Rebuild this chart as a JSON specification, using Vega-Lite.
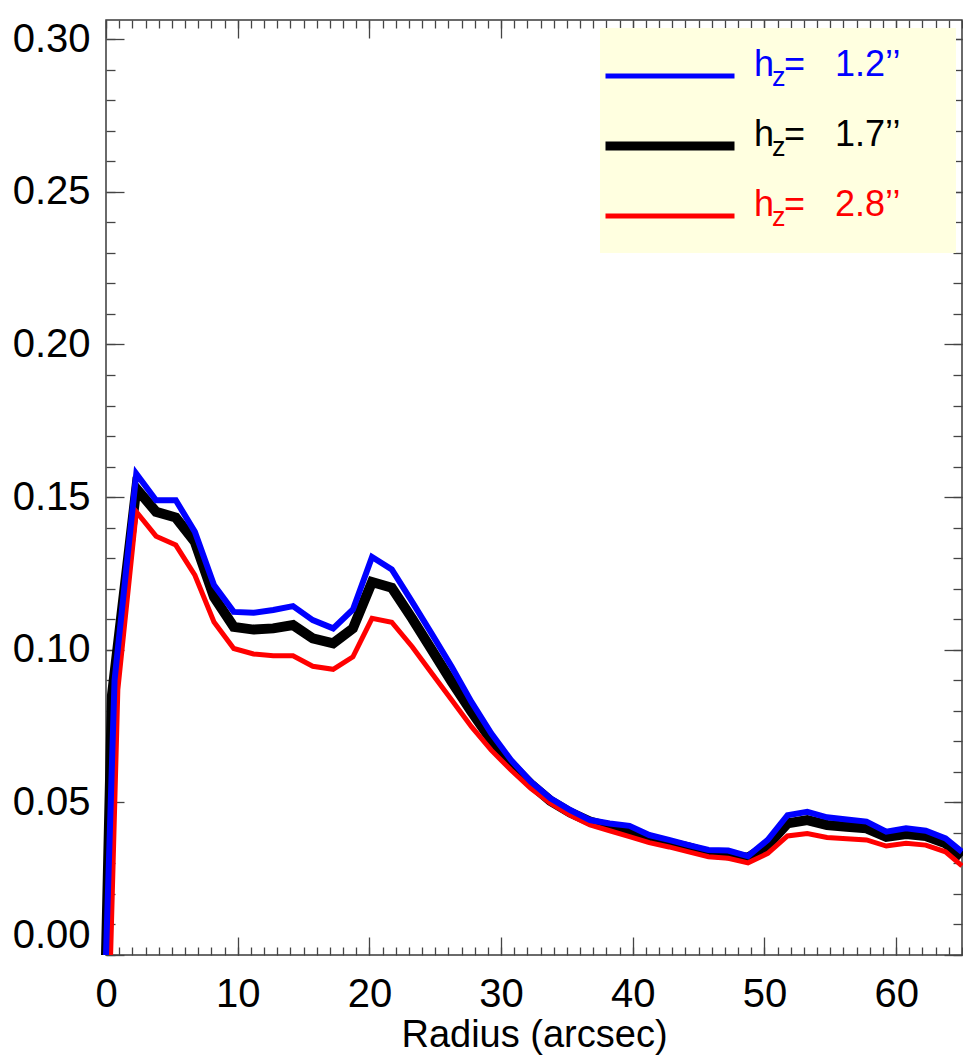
{
  "$schema": "https://vega.github.io/schema/vega-lite/v6.json",
  "width": 856,
  "height": 935,
  "autosize": {"type": "none"},
  "padding": {"left": 106, "top": 20, "right": 1, "bottom": 103},
  "background": "white",
  "config": {
    "view": {"stroke": "#3a3a3a", "strokeWidth": 1.5},
    "font": "Liberation Sans",
    "axis": {"grid": false, "domain": false, "tickColor": "#444444", "tickWidth": 1.3, "labelFlush": false}
  },
  "datasets": {
    "curves": [
      {"hz": "1.2", "r": 0, "f": 0}, {"hz": "1.2", "r": 0.65, "f": 0.09}, {"hz": "1.2", "r": 2.3, "f": 0.1577}, {"hz": "1.2", "r": 3.8, "f": 0.149}, {"hz": "1.2", "r": 5.3, "f": 0.149}, {"hz": "1.2", "r": 6.75, "f": 0.1386}, {"hz": "1.2", "r": 8.2, "f": 0.1212}, {"hz": "1.2", "r": 9.7, "f": 0.1124}, {"hz": "1.2", "r": 11.2, "f": 0.1121}, {"hz": "1.2", "r": 12.7, "f": 0.113}, {"hz": "1.2", "r": 14.2, "f": 0.1143}, {"hz": "1.2", "r": 15.7, "f": 0.1097}, {"hz": "1.2", "r": 17.25, "f": 0.107}, {"hz": "1.2", "r": 18.75, "f": 0.1132}, {"hz": "1.2", "r": 20.2, "f": 0.1304}, {"hz": "1.2", "r": 21.7, "f": 0.1263}, {"hz": "1.2", "r": 23.25, "f": 0.1157}, {"hz": "1.2", "r": 24.75, "f": 0.1051}, {"hz": "1.2", "r": 26.25, "f": 0.0944}, {"hz": "1.2", "r": 27.75, "f": 0.0829}, {"hz": "1.2", "r": 29.25, "f": 0.0726}, {"hz": "1.2", "r": 30.75, "f": 0.0639}, {"hz": "1.2", "r": 32.25, "f": 0.0568}, {"hz": "1.2", "r": 33.75, "f": 0.0513}, {"hz": "1.2", "r": 35.25, "f": 0.0475}, {"hz": "1.2", "r": 36.75, "f": 0.0442}, {"hz": "1.2", "r": 38.25, "f": 0.0431}, {"hz": "1.2", "r": 39.75, "f": 0.0423}, {"hz": "1.2", "r": 41.25, "f": 0.0393}, {"hz": "1.2", "r": 42.75, "f": 0.0377}, {"hz": "1.2", "r": 44.25, "f": 0.036}, {"hz": "1.2", "r": 45.75, "f": 0.0344}, {"hz": "1.2", "r": 47.25, "f": 0.0342}, {"hz": "1.2", "r": 48.75, "f": 0.0324}, {"hz": "1.2", "r": 50.25, "f": 0.0377}, {"hz": "1.2", "r": 51.75, "f": 0.0458}, {"hz": "1.2", "r": 53.25, "f": 0.0469}, {"hz": "1.2", "r": 54.75, "f": 0.0451}, {"hz": "1.2", "r": 56.25, "f": 0.0444}, {"hz": "1.2", "r": 57.75, "f": 0.0437}, {"hz": "1.2", "r": 59.25, "f": 0.0404}, {"hz": "1.2", "r": 60.75, "f": 0.0415}, {"hz": "1.2", "r": 62.25, "f": 0.0407}, {"hz": "1.2", "r": 63.75, "f": 0.0382}, {"hz": "1.2", "r": 65, "f": 0.0338},
      {"hz": "1.7", "r": 0, "f": 0}, {"hz": "1.7", "r": 0.45, "f": 0.085}, {"hz": "1.7", "r": 2.3, "f": 0.1528}, {"hz": "1.7", "r": 3.8, "f": 0.1452}, {"hz": "1.7", "r": 5.3, "f": 0.1433}, {"hz": "1.7", "r": 6.75, "f": 0.1353}, {"hz": "1.7", "r": 8.2, "f": 0.1173}, {"hz": "1.7", "r": 9.7, "f": 0.1075}, {"hz": "1.7", "r": 11.2, "f": 0.1066}, {"hz": "1.7", "r": 12.7, "f": 0.107}, {"hz": "1.7", "r": 14.2, "f": 0.1081}, {"hz": "1.7", "r": 15.7, "f": 0.1037}, {"hz": "1.7", "r": 17.25, "f": 0.1021}, {"hz": "1.7", "r": 18.75, "f": 0.107}, {"hz": "1.7", "r": 20.2, "f": 0.1222}, {"hz": "1.7", "r": 21.7, "f": 0.1203}, {"hz": "1.7", "r": 23.25, "f": 0.1102}, {"hz": "1.7", "r": 24.75, "f": 0.0999}, {"hz": "1.7", "r": 26.25, "f": 0.0895}, {"hz": "1.7", "r": 27.75, "f": 0.0797}, {"hz": "1.7", "r": 29.25, "f": 0.0704}, {"hz": "1.7", "r": 30.75, "f": 0.0625}, {"hz": "1.7", "r": 32.25, "f": 0.056}, {"hz": "1.7", "r": 33.75, "f": 0.0505}, {"hz": "1.7", "r": 35.25, "f": 0.0467}, {"hz": "1.7", "r": 36.75, "f": 0.0437}, {"hz": "1.7", "r": 38.25, "f": 0.042}, {"hz": "1.7", "r": 39.75, "f": 0.0408}, {"hz": "1.7", "r": 41.25, "f": 0.0383}, {"hz": "1.7", "r": 42.75, "f": 0.0366}, {"hz": "1.7", "r": 44.25, "f": 0.0353}, {"hz": "1.7", "r": 45.75, "f": 0.0333}, {"hz": "1.7", "r": 47.25, "f": 0.0327}, {"hz": "1.7", "r": 48.75, "f": 0.0319}, {"hz": "1.7", "r": 50.25, "f": 0.036}, {"hz": "1.7", "r": 51.75, "f": 0.0431}, {"hz": "1.7", "r": 53.25, "f": 0.0442}, {"hz": "1.7", "r": 54.75, "f": 0.0426}, {"hz": "1.7", "r": 56.25, "f": 0.042}, {"hz": "1.7", "r": 57.75, "f": 0.0415}, {"hz": "1.7", "r": 59.25, "f": 0.0387}, {"hz": "1.7", "r": 60.75, "f": 0.0396}, {"hz": "1.7", "r": 62.25, "f": 0.039}, {"hz": "1.7", "r": 63.75, "f": 0.0366}, {"hz": "1.7", "r": 65, "f": 0.0322},
      {"hz": "2.8", "r": 0.35, "f": 0}, {"hz": "2.8", "r": 0.9, "f": 0.087}, {"hz": "2.8", "r": 2.3, "f": 0.1452}, {"hz": "2.8", "r": 3.8, "f": 0.1372}, {"hz": "2.8", "r": 5.3, "f": 0.1343}, {"hz": "2.8", "r": 6.75, "f": 0.1244}, {"hz": "2.8", "r": 8.2, "f": 0.1091}, {"hz": "2.8", "r": 9.7, "f": 0.1004}, {"hz": "2.8", "r": 11.2, "f": 0.0986}, {"hz": "2.8", "r": 12.7, "f": 0.098}, {"hz": "2.8", "r": 14.2, "f": 0.098}, {"hz": "2.8", "r": 15.7, "f": 0.0946}, {"hz": "2.8", "r": 17.25, "f": 0.0936}, {"hz": "2.8", "r": 18.75, "f": 0.0977}, {"hz": "2.8", "r": 20.2, "f": 0.1103}, {"hz": "2.8", "r": 21.7, "f": 0.109}, {"hz": "2.8", "r": 23.25, "f": 0.101}, {"hz": "2.8", "r": 24.75, "f": 0.0922}, {"hz": "2.8", "r": 26.25, "f": 0.0835}, {"hz": "2.8", "r": 27.75, "f": 0.0748}, {"hz": "2.8", "r": 29.25, "f": 0.0671}, {"hz": "2.8", "r": 30.75, "f": 0.0606}, {"hz": "2.8", "r": 32.25, "f": 0.0546}, {"hz": "2.8", "r": 33.75, "f": 0.0497}, {"hz": "2.8", "r": 35.25, "f": 0.0458}, {"hz": "2.8", "r": 36.75, "f": 0.0426}, {"hz": "2.8", "r": 38.25, "f": 0.0407}, {"hz": "2.8", "r": 39.75, "f": 0.0388}, {"hz": "2.8", "r": 41.25, "f": 0.0368}, {"hz": "2.8", "r": 42.75, "f": 0.0354}, {"hz": "2.8", "r": 44.25, "f": 0.0338}, {"hz": "2.8", "r": 45.75, "f": 0.0322}, {"hz": "2.8", "r": 47.25, "f": 0.0317}, {"hz": "2.8", "r": 48.75, "f": 0.0302}, {"hz": "2.8", "r": 50.25, "f": 0.0333}, {"hz": "2.8", "r": 51.75, "f": 0.039}, {"hz": "2.8", "r": 53.25, "f": 0.0398}, {"hz": "2.8", "r": 54.75, "f": 0.0385}, {"hz": "2.8", "r": 56.25, "f": 0.0381}, {"hz": "2.8", "r": 57.75, "f": 0.0377}, {"hz": "2.8", "r": 59.25, "f": 0.0357}, {"hz": "2.8", "r": 60.75, "f": 0.0366}, {"hz": "2.8", "r": 62.25, "f": 0.036}, {"hz": "2.8", "r": 63.75, "f": 0.0338}, {"hz": "2.8", "r": 65, "f": 0.0292}
    ]
  },
  "data": {"name": "curves"},
  "layer": [
    {
      "mark": {"type": "point", "opacity": 0, "size": 0},
      "encoding": {
        "x": {"field": "r", "type": "quantitative", "scale": {"domain": [0, 65], "nice": false, "zero": false},
          "axis": {"orient": "bottom", "values": [0,1,2,3,4,5,6,7,8,9,10,11,12,13,14,15,16,17,18,19,20,21,22,23,24,25,26,27,28,29,30,31,32,33,34,35,36,37,38,39,40,41,42,43,44,45,46,47,48,49,50,51,52,53,54,55,56,57,58,59,60,61,62,63,64,65], "tickSize": -8, "labels": false, "title": null}},
        "y": {"field": "f", "type": "quantitative", "scale": {"domain": [0, 0.3063], "nice": false, "zero": false},
          "axis": {"orient": "left", "values": [0,0.01,0.02,0.03,0.04,0.05,0.06,0.07,0.08,0.09,0.1,0.11,0.12,0.13,0.14,0.15,0.16,0.17,0.18,0.19,0.2,0.21,0.22,0.23,0.24,0.25,0.26,0.27,0.28,0.29,0.3], "tickSize": -9, "labels": false, "title": null}}
      }
    },
    {
      "mark": {"type": "point", "opacity": 0, "size": 0},
      "encoding": {
        "x": {"field": "r", "type": "quantitative", "scale": {"domain": [0, 65], "nice": false, "zero": false},
          "axis": {"orient": "bottom", "values": [0,10,20,30,40,50,60], "tickSize": -18, "labels": false, "title": null}},
        "y": {"field": "f", "type": "quantitative", "scale": {"domain": [0, 0.3063], "nice": false, "zero": false},
          "axis": {"orient": "left", "values": [0,0.05,0.1,0.15,0.2,0.25,0.3], "tickSize": -18, "labels": false, "title": null}}
      }
    },
    {
      "mark": {"type": "point", "opacity": 0, "size": 0},
      "encoding": {
        "x": {"field": "r", "type": "quantitative", "scale": {"domain": [0, 65], "nice": false, "zero": false},
          "axis": {"orient": "top", "values": [0,1,2,3,4,5,6,7,8,9,10,11,12,13,14,15,16,17,18,19,20,21,22,23,24,25,26,27,28,29,30,31,32,33,34,35,36,37,38,39,40,41,42,43,44,45,46,47,48,49,50,51,52,53,54,55,56,57,58,59,60,61,62,63,64,65], "tickSize": -8, "labels": false, "title": null}},
        "y": {"field": "f", "type": "quantitative", "scale": {"domain": [0, 0.3063], "nice": false, "zero": false},
          "axis": {"orient": "right", "values": [0,0.01,0.02,0.03,0.04,0.05,0.06,0.07,0.08,0.09,0.1,0.11,0.12,0.13,0.14,0.15,0.16,0.17,0.18,0.19,0.2,0.21,0.22,0.23,0.24,0.25,0.26,0.27,0.28,0.29,0.3], "tickSize": -9, "labels": false, "title": null}}
      }
    },
    {
      "mark": {"type": "point", "opacity": 0, "size": 0},
      "encoding": {
        "x": {"field": "r", "type": "quantitative", "scale": {"domain": [0, 65], "nice": false, "zero": false},
          "axis": {"orient": "top", "values": [0,10,20,30,40,50,60], "tickSize": -18, "labels": false, "title": null}},
        "y": {"field": "f", "type": "quantitative", "scale": {"domain": [0, 0.3063], "nice": false, "zero": false},
          "axis": {"orient": "right", "values": [0,0.05,0.1,0.15,0.2,0.25,0.3], "tickSize": -18, "labels": false, "title": null}}
      }
    },
    {
      "encoding": {
        "x": {"field": "r", "type": "quantitative", "scale": {"domain": [0, 65], "nice": false, "zero": false},
          "axis": {"orient": "bottom", "values": [0,10,20,30,40,50,60], "ticks": false, "tickSize": 0, "labelFlush": false, "labelFontSize": 40, "labelColor": "#000000", "labelPadding": 19, "title": "Radius (arcsec)", "titleFontSize": 38, "titleFontWeight": "normal", "titleColor": "#000000", "titlePadding": 2}},
        "y": {"field": "f", "type": "quantitative", "scale": {"domain": [0, 0.3063], "nice": false, "zero": false},
          "axis": {"orient": "left", "values": [0,0.05,0.1,0.15,0.2,0.25,0.3], "format": ".2f", "ticks": false, "tickSize": 0, "labelFontSize": 40, "labelColor": "#000000", "labelPadding": 16, "labelFlush": true, "title": null}},
        "color": {"field": "hz", "type": "nominal",
          "scale": {"domain": ["1.2", "1.7", "2.8"], "range": ["#0000ff", "#000000", "#ff0000"]},
          "legend": {
            "orient": "none", "legendX": 494, "legendY": 8, "padding": 5,
            "fillColor": "#ffffe0", "strokeColor": null,
            "title": "\u00a0", "titleFontSize": 6, "titlePadding": 5,
            "symbolType": "stroke", "symbolSize": 16641, "symbolStrokeWidth": 5, "symbolOffset": -2,
            "clipHeight": 64, "rowPadding": 6,
            "labelOffset": 17, "labelFontSize": 36, "labelFont": "Liberation Sans", "labelBaseline": "alphabetic", "labelLimit": 500,
            "labelExpr": "'h\u00a0=\u00a0\u00a0\u00a0' + datum.label + '\u2019\u2019\u00a0\u00a0\u00a0\u00a0\u00a0\u200b'",
            "encode": {
              "symbols": {"update": {"strokeWidth": {"signal": "(datum.value === '1.7' ? 9 : 5)"}}},
              "labels": {"update": {"fill": {"signal": "datum.value === '1.2' ? '#0000ff' : datum.value === '1.7' ? '#000000' : '#ff0000'"}}}
            }
          }}
      },
      "layer": [
        {"transform": [{"filter": "datum.hz === '1.7'"}], "mark": {"type": "line", "strokeWidth": 10}},
        {"transform": [{"filter": "datum.hz === '2.8'"}], "mark": {"type": "line", "strokeWidth": 5}},
        {"transform": [{"filter": "datum.hz === '1.2'"}], "mark": {"type": "line", "strokeWidth": 6}}
      ]
    },
    {
      "mark": {"type": "line", "opacity": 0},
      "encoding": {
        "x": {"field": "r", "type": "quantitative", "scale": {"domain": [0, 65], "nice": false, "zero": false}, "axis": null},
        "y": {"field": "f", "type": "quantitative", "scale": {"domain": [0, 0.3063], "nice": false, "zero": false}, "axis": null},
        "color": {"field": "hz", "type": "nominal",
          "scale": {"domain": ["1.2", "1.7", "2.8"], "range": ["#0000ff", "#000000", "#ff0000"]},
          "legend": {
            "orient": "none", "legendX": 494, "legendY": 18, "padding": 5, "zindex": 2,
            "fillColor": null, "strokeColor": null,
            "title": "\u00a0", "titleFontSize": 6, "titlePadding": 5,
            "symbolType": "stroke", "symbolSize": 16641, "symbolOpacity": 0, "symbolStrokeWidth": 0,
            "clipHeight": 64, "rowPadding": 6,
            "labelOffset": 38, "labelFontSize": 27, "labelFont": "Liberation Sans", "labelBaseline": "alphabetic", "labelLimit": 500,
            "labelExpr": "'z'",
            "encode": {
              "labels": {"update": {"fill": {"signal": "datum.value === '1.2' ? '#0000ff' : datum.value === '1.7' ? '#000000' : '#ff0000'"}}}
            }
          }}
      }
    }
  ],
  "resolve": {"scale": {"color": "independent"}, "axis": {"x": "independent", "y": "independent"}}
}
